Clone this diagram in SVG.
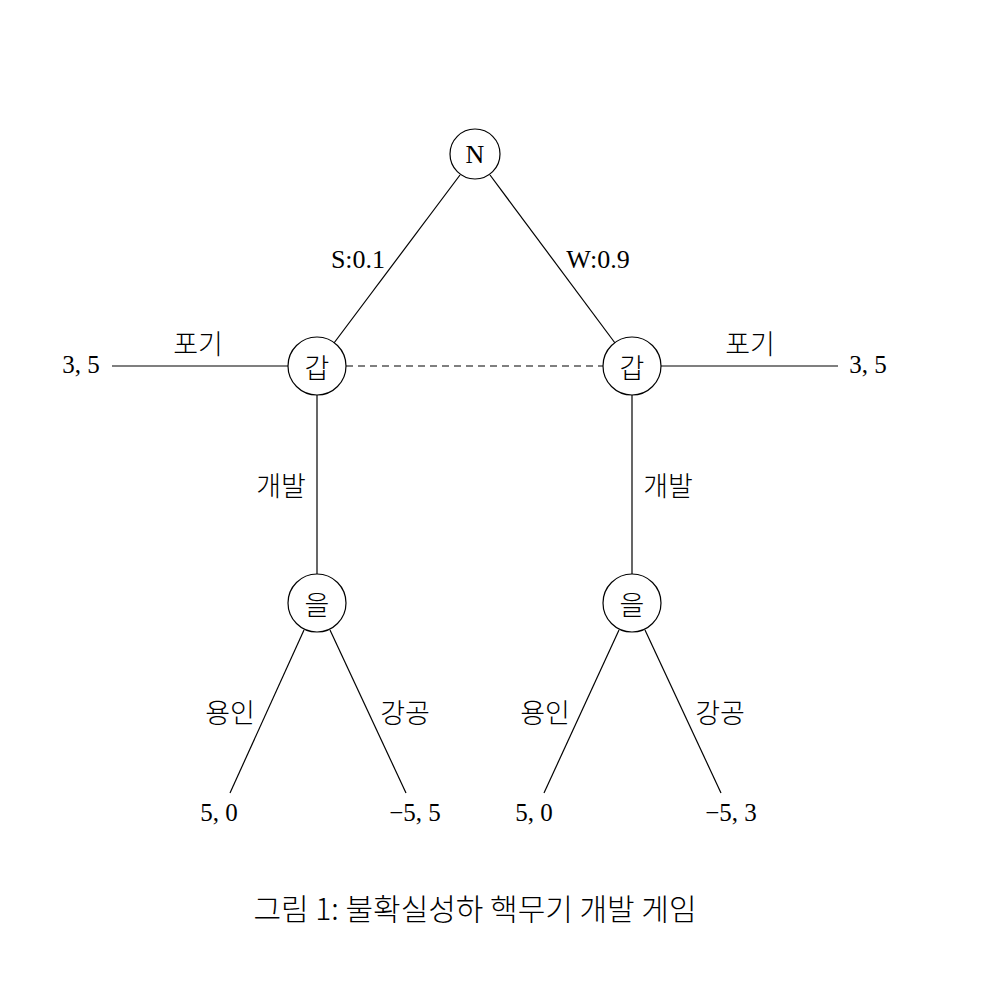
<svg xmlns="http://www.w3.org/2000/svg" width="1000" height="1000" viewBox="0 0 1000 1000">
<style>
text{font-family:"Liberation Serif","Noto Sans CJK KR",serif;font-size:25px;fill:#000;text-anchor:middle;dominant-baseline:central}
.ko{font-family:"Noto Sans CJK KR","Liberation Serif",sans-serif;font-size:27px;font-weight:300}
.lab{font-size:26px}
.node circle{fill:#fff;stroke:#000;stroke-width:1.2}
.edges line{stroke:#000;stroke-width:1.2}
.dash{stroke-dasharray:7,5}
</style>
<rect width="1000" height="1000" fill="#fff"/>
<g class="edges" id="connectors">
<line x1="460" y1="175" x2="334" y2="343"/>
<line x1="490" y1="175" x2="615" y2="343"/>
<line x1="112" y1="366" x2="288" y2="366"/>
<line x1="661" y1="366" x2="838" y2="366"/>
<line class="dash" x1="346" y1="366" x2="603" y2="366"/>
<line x1="317" y1="395" x2="317" y2="574"/>
<line x1="632" y1="395" x2="632" y2="574"/>
<line x1="304" y1="630" x2="230" y2="793"/>
<line x1="330" y1="630" x2="406" y2="793"/>
<line x1="619" y1="630" x2="544" y2="793"/>
<line x1="645" y1="630" x2="721" y2="793"/>
</g>
<g class="node" id="N"><circle cx="475" cy="154" r="25"/><text x="475" y="154" class="lab">N</text></g>
<g class="node" id="gap-left"><circle cx="317" cy="366" r="29"/><text class="ko" x="317" y="366">갑</text></g>
<g class="node" id="gap-right"><circle cx="632" cy="366" r="29"/><text class="ko" x="632" y="366">갑</text></g>
<g class="node" id="eul-left"><circle cx="317" cy="603" r="29"/><text class="ko" x="317" y="603">을</text></g>
<g class="node" id="eul-right"><circle cx="632" cy="603" r="29"/><text class="ko" x="632" y="603">을</text></g>
<g id="labels">
<text class="lab" x="358" y="259">S:0.1</text>
<text class="lab" x="598" y="259">W:0.9</text>
<text class="ko" x="198" y="342">포기</text>
<text class="ko" x="750" y="342">포기</text>
<text x="81" y="364">3, 5</text>
<text x="868" y="364">3, 5</text>
<text class="ko" x="281" y="484">개발</text>
<text class="ko" x="668" y="484">개발</text>
<text class="ko" x="230" y="711">용인</text>
<text class="ko" x="405" y="711">강공</text>
<text class="ko" x="545" y="711">용인</text>
<text class="ko" x="720" y="711">강공</text>
<text x="219" y="812">5, 0</text>
<text x="415" y="812">−5, 5</text>
<text x="534" y="812">5, 0</text>
<text x="731" y="812">−5, 3</text>
<text class="ko" x="475" y="907" style="font-size:30px">그림 1: 불확실성하 핵무기 개발 게임</text>
</g>
</svg>
